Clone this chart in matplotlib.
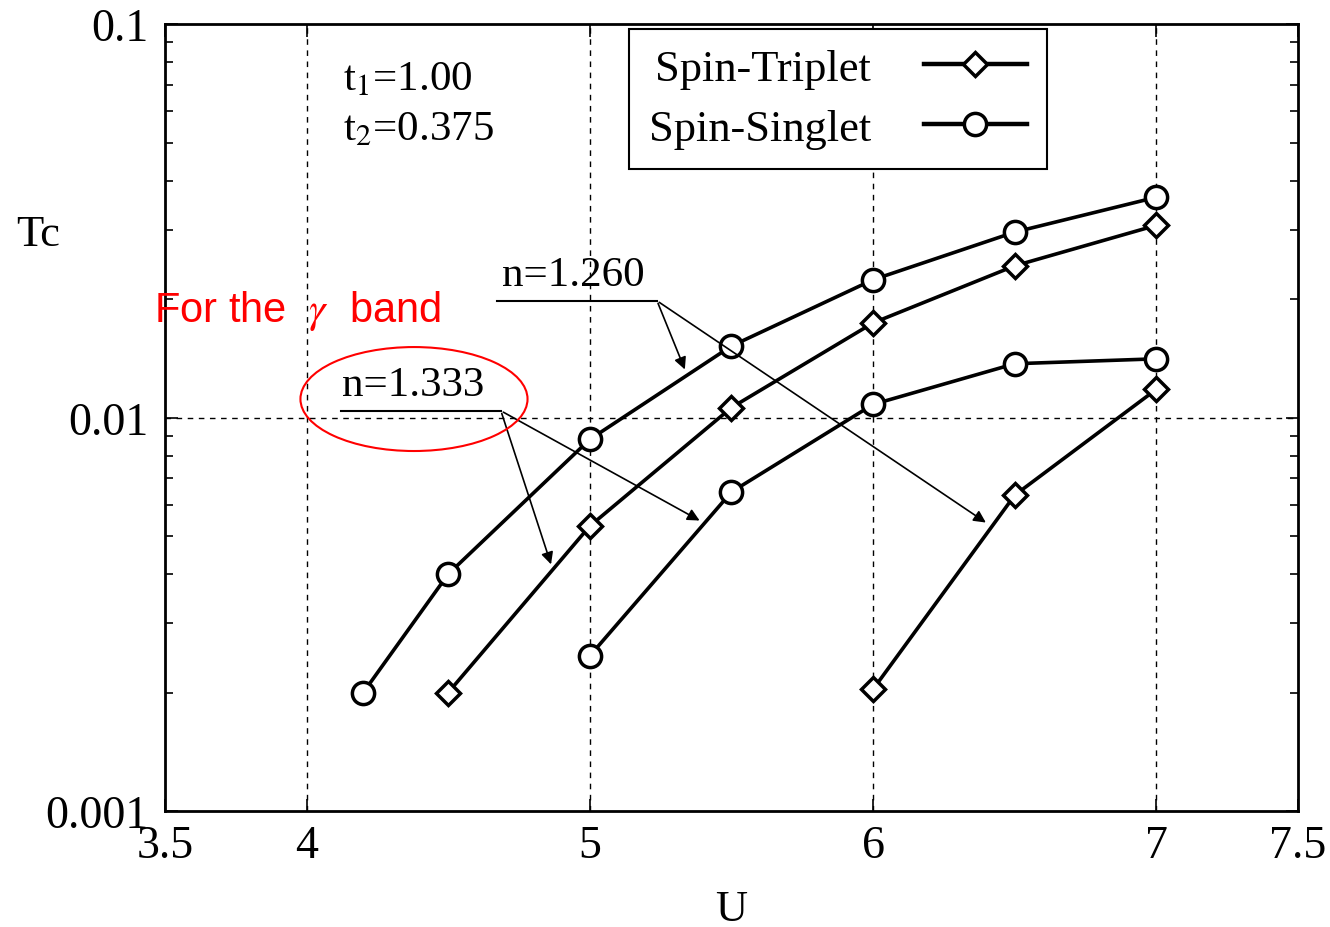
import numpy as np
import matplotlib
matplotlib.use('Agg')
import matplotlib.pyplot as plt
from matplotlib.patches import Ellipse
from matplotlib.ticker import LogLocator, NullFormatter

plt.rcParams['font.family'] = ['Liberation Serif', 'DejaVu Serif']
plt.rcParams['mathtext.fontset'] = 'stix'

# n=1.333
u_sing_1333 = [4.2, 4.5, 5.0, 5.5, 6.0, 6.5, 7.0]
tc_sing_1333 = [0.0020, 0.0040, 0.0088, 0.0152, 0.0224, 0.0296, 0.0363]
u_trip_1333 = [4.5, 5.0, 5.5, 6.0, 6.5, 7.0]
tc_trip_1333 = [0.0020, 0.0053, 0.0106, 0.0174, 0.0243, 0.0308]
# n=1.260
u_sing_1260 = [5.0, 5.5, 6.0, 6.5, 7.0]
tc_sing_1260 = [0.00248, 0.00647, 0.0108, 0.0137, 0.0141]
u_trip_1260 = [6.0, 6.5, 7.0]
tc_trip_1260 = [0.00204, 0.00635, 0.0118]

xticks = [3.5, 4, 5, 6, 7, 7.5]
xtick_labels = ['3.5', '4', '5', '6', '7', '7.5']
yticks = [0.001, 0.01, 0.1]
ytick_labels = ['0.001', '0.01', '0.1']

fig = plt.figure(figsize=(13.3, 9.28), dpi=100)
ax = fig.add_axes([0.124, 0.125, 0.852, 0.848])

circ = dict(color='black', lw=2.6, marker='o', ms=16, mfc='white', mec='black', mew=2.5)
diam = dict(color='black', lw=2.6, marker='D', ms=12, mfc='white', mec='black', mew=2.5)

ax.plot(u_trip_1333, tc_trip_1333, label='Spin-Triplet', zorder=3, **diam)
ax.plot(u_sing_1333, tc_sing_1333, label='Spin-Singlet', zorder=3, **circ)
ax.plot(u_sing_1260, tc_sing_1260, zorder=3, **circ)
ax.plot(u_trip_1260, tc_trip_1260, zorder=3, **diam)

ax.set_yscale('log')
ax.set_xlim(3.5, 7.5)
ax.set_ylim(0.001, 0.1)
ax.set_xticks(xticks)
ax.set_xticklabels(xtick_labels)
ax.set_yticks(yticks)
ax.set_yticklabels(ytick_labels)
ax.yaxis.set_minor_locator(LogLocator(base=10, subs=np.arange(2, 10)))
ax.yaxis.set_minor_formatter(NullFormatter())
ax.tick_params(which='both', direction='in', top=True, right=True, labelsize=33, width=1.2)
ax.tick_params(which='major', length=9)
ax.tick_params(which='minor', length=6)
ax.tick_params(axis='y', pad=12)
ax.tick_params(axis='x', pad=10)
for s in ax.spines.values():
    s.set_linewidth(2)

for x in [4, 5, 6, 7]:
    ax.axvline(x, color='black', lw=1, ls=(0, (4, 4)), zorder=1)
ax.axhline(0.01, color='black', lw=1, ls=(0, (4, 4)), zorder=1)

leg = ax.legend(loc='upper right', bbox_to_anchor=(0.778, 0.994), markerfirst=False,
                fontsize=32, frameon=True, fancybox=False, edgecolor='black', framealpha=1,
                handlelength=2.3, borderpad=0.45, labelspacing=0.45, handletextpad=1.2,
                borderaxespad=0)
leg.get_frame().set_linewidth(1.5)
for h in leg.legend_handles:
    h.set_linewidth(3.2)

ax.text(0.157, 0.917, r't$_1$=1.00', transform=ax.transAxes, fontsize=31, va='baseline')
ax.text(0.157, 0.854, r't$_2$=0.375', transform=ax.transAxes, fontsize=31, va='baseline')

# annotations n=1.260
ax.plot([4.672, 5.237], [0.0198, 0.0198], color='black', lw=1.5, zorder=2)
ax.text(4.69, 0.0206, 'n=1.260', fontsize=31, va='bottom')
for tip in [(5.339, 0.01305), (6.406, 0.00536)]:
    ax.annotate('', xy=tip, xytext=(5.237, 0.0198),
                arrowprops=dict(arrowstyle='-|>', color='black', lw=1.2, mutation_scale=18))

# annotations n=1.333
ax.plot([4.121, 4.686], [0.0104, 0.0104], color='black', lw=1.5, zorder=2)
ax.text(4.125, 0.0108, 'n=1.333', fontsize=31, va='bottom')
for tip in [(4.866, 0.00417), (5.396, 0.00543)]:
    ax.annotate('', xy=tip, xytext=(4.686, 0.0104),
                arrowprops=dict(arrowstyle='-|>', color='black', lw=1.2, mutation_scale=18))

ax.add_patch(Ellipse((0.2198, 0.5235), 0.2004, 0.1321, transform=ax.transAxes,
                     fill=False, edgecolor='red', lw=1.5, zorder=4))
ax.text(-0.0097, 0.6226, r'For the  $\gamma$  band', transform=ax.transAxes, fontsize=30,
        color='red', va='baseline', family=['Liberation Sans', 'DejaVu Sans'], clip_on=False,
        zorder=5)

fig.text(0.0286, 0.747, 'Tc', fontsize=32, ha='center', va='center')
fig.text(0.55, 0.019, 'U', fontsize=32, ha='center', va='center')

fig.savefig('out.png', dpi=100)
